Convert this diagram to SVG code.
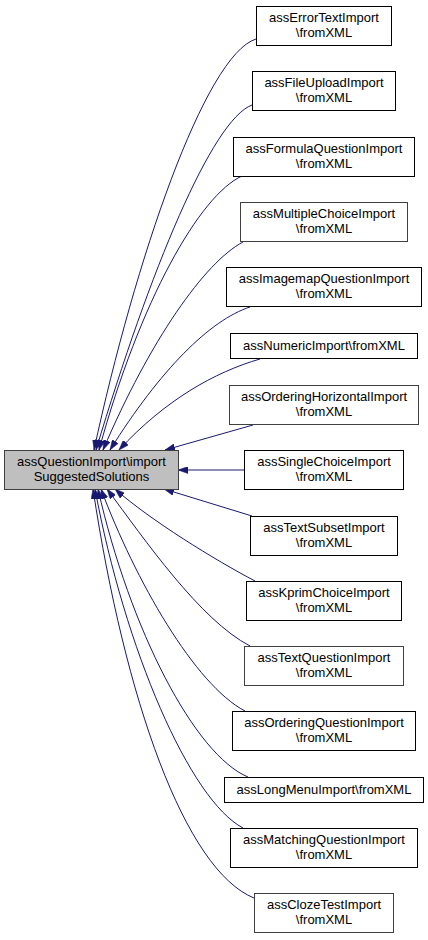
<svg xmlns="http://www.w3.org/2000/svg" width="428" height="940" viewBox="0 0 428 940">
<style>
text{font-family:"Liberation Sans",Arial,Helvetica,sans-serif;font-size:13px;fill:#000;text-anchor:middle}
.n{fill:#fff;stroke:#000;stroke-width:1}
.g{fill:#fff;stroke:#404040;stroke-width:1}
.m{fill:#bfbfbf;stroke:#404040;stroke-width:1}
.e{fill:none;stroke:#191970;stroke-width:1;marker-end:url(#ah)}
</style>
<defs>
<marker id="ah" markerUnits="userSpaceOnUse" viewBox="0 0 10 7" refX="10" refY="3.5" markerWidth="10" markerHeight="7" orient="auto">
<polygon points="0,0 10,3.5 0,7" fill="#191970" stroke="#191970" stroke-width="0.5"/>
</marker>
</defs>
<rect width="428" height="940" fill="#fff"/>
<g id="connectors">
<path class="e" d="M256,39 C205,55 135,260 94,450"/>
<path class="e" d="M252,105 C212,120 150,270 96,450"/>
<path class="e" d="M242,176 C200,195 140,300 99,450"/>
<path class="e" d="M243,242 C205,262 150,340 103,450"/>
<path class="e" d="M250,307 C210,320 160,370 110,450"/>
<path class="e" d="M260,359 C215,372 165,400 119,450"/>
<path class="e" d="M253,425 L165,450"/>
<path class="e" d="M244,470 L178,470"/>
<path class="e" d="M252,516 L164,489"/>
<path class="e" d="M255,581 C215,560 150,520 115,489"/>
<path class="e" d="M250,646 C200,620 145,540 107,489"/>
<path class="e" d="M245,711 C195,685 135,580 101,489"/>
<path class="e" d="M248,777 C195,755 130,630 98,489"/>
<path class="e" d="M243,828 C190,800 125,650 95,489"/>
<path class="e" d="M254,898 C185,870 125,700 93,489"/>
</g>
<g id="main">
<rect class="m" x="4.5" y="450.5" width="174" height="39"/>
<text x="91.5" y="466">assQuestionImport\import</text>
<text x="91.5" y="481">SuggestedSolutions</text>
</g>
<g id="n1">
<rect class="n" x="256.5" y="6.5" width="135" height="39"/>
<text x="324" y="22">assErrorTextImport</text>
<text x="324" y="37">\fromXML</text>
</g>
<g id="n2">
<rect class="n" x="252.5" y="71.5" width="143" height="39"/>
<text x="324" y="87">assFileUploadImport</text>
<text x="324" y="102">\fromXML</text>
</g>
<g id="n3">
<rect class="n" x="233.5" y="137.5" width="181" height="39"/>
<text x="324" y="153">assFormulaQuestionImport</text>
<text x="324" y="168">\fromXML</text>
</g>
<g id="n4">
<rect class="g" x="240.5" y="202.5" width="167" height="39"/>
<text x="324" y="218">assMultipleChoiceImport</text>
<text x="324" y="233">\fromXML</text>
</g>
<g id="n5">
<rect class="n" x="226.5" y="267.5" width="195" height="39"/>
<text x="324" y="283">assImagemapQuestionImport</text>
<text x="324" y="298">\fromXML</text>
</g>
<g id="n6">
<rect class="n" x="230.5" y="333.5" width="187" height="25"/>
<text x="324" y="350">assNumericImport\fromXML</text>
</g>
<g id="n7">
<rect class="g" x="229.5" y="385.5" width="189" height="39"/>
<text x="324" y="401">assOrderingHorizontalImport</text>
<text x="324" y="416">\fromXML</text>
</g>
<g id="n8">
<rect class="n" x="244.5" y="450.5" width="159" height="39"/>
<text x="324" y="466">assSingleChoiceImport</text>
<text x="324" y="481">\fromXML</text>
</g>
<g id="n9">
<rect class="n" x="250.5" y="516.5" width="147" height="39"/>
<text x="324" y="532">assTextSubsetImport</text>
<text x="324" y="547">\fromXML</text>
</g>
<g id="n10">
<rect class="n" x="246.5" y="581.5" width="155" height="39"/>
<text x="324" y="597">assKprimChoiceImport</text>
<text x="324" y="612">\fromXML</text>
</g>
<g id="n11">
<rect class="g" x="244.5" y="646.5" width="159" height="39"/>
<text x="324" y="662">assTextQuestionImport</text>
<text x="324" y="677">\fromXML</text>
</g>
<g id="n12">
<rect class="n" x="232.5" y="711.5" width="183" height="39"/>
<text x="324" y="727">assOrderingQuestionImport</text>
<text x="324" y="742">\fromXML</text>
</g>
<g id="n13">
<rect class="n" x="224.5" y="777.5" width="199" height="25"/>
<text x="324" y="794">assLongMenuImport\fromXML</text>
</g>
<g id="n14">
<rect class="n" x="230.5" y="828.5" width="187" height="39"/>
<text x="324" y="844">assMatchingQuestionImport</text>
<text x="324" y="859">\fromXML</text>
</g>
<g id="n15">
<rect class="g" x="254.5" y="893.5" width="139" height="39"/>
<text x="324" y="909">assClozeTestImport</text>
<text x="324" y="924">\fromXML</text>
</g>
</svg>
